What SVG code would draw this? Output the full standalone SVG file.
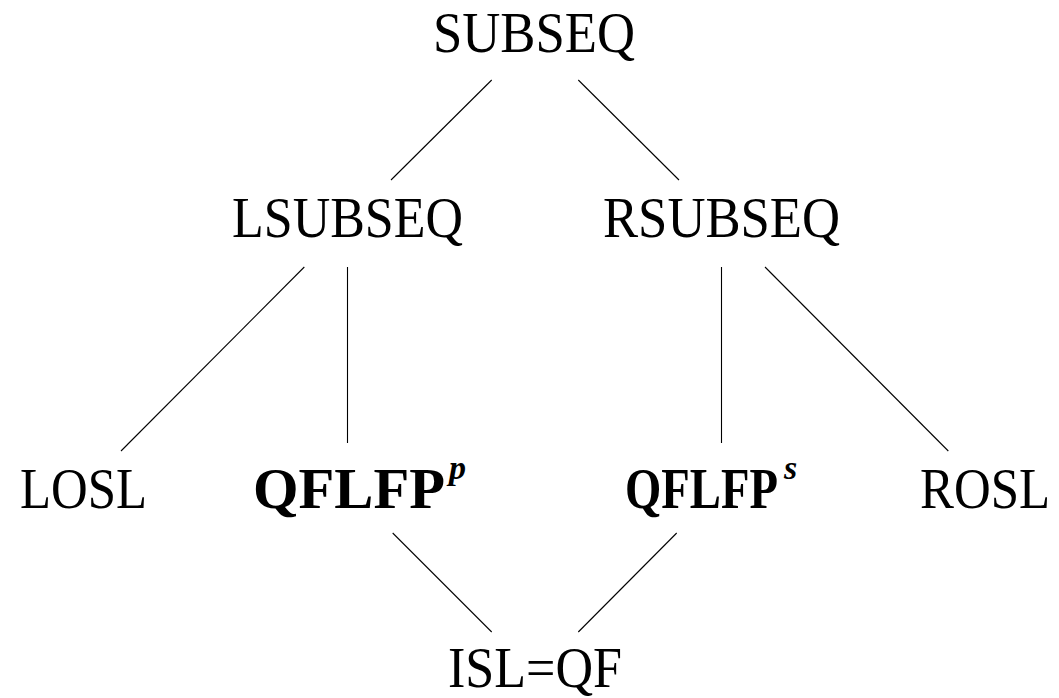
<svg xmlns="http://www.w3.org/2000/svg" width="1059" height="698" viewBox="0 0 1059 698">
<style>
.t{font-family:"Liberation Serif","DejaVu Serif",serif;font-size:58px;fill:#000}
.b{font-weight:bold}
.sup{font-family:"Liberation Serif","DejaVu Serif",serif;font-size:34px;font-weight:bold;font-style:italic;fill:#000}
.e{stroke:#000;stroke-width:1.1;fill:none}
</style>
<rect width="1059" height="698" fill="#fff"/>
<g id="connectors">
<line class="e" x1="491.7" y1="80" x2="391" y2="180"/>
<line class="e" x1="578.3" y1="80" x2="679" y2="180"/>
<line class="e" x1="304.3" y1="267" x2="121" y2="451"/>
<line class="e" x1="347.5" y1="267" x2="347.5" y2="443"/>
<line class="e" x1="721.5" y1="267" x2="721.5" y2="443"/>
<line class="e" x1="765" y1="267" x2="948.3" y2="451"/>
<line class="e" x1="392.7" y1="533" x2="491.7" y2="632"/>
<line class="e" x1="676.7" y1="533" x2="578.3" y2="632"/>
</g>
<g id="SUBSEQ"><text class="t" x="433" y="52" textLength="202" lengthAdjust="spacingAndGlyphs">SUBSEQ</text></g>
<g id="LSUBSEQ"><text class="t" x="232" y="237" textLength="231" lengthAdjust="spacingAndGlyphs">LSUBSEQ</text></g>
<g id="RSUBSEQ"><text class="t" x="603" y="237" textLength="237" lengthAdjust="spacingAndGlyphs">RSUBSEQ</text></g>
<g id="LOSL"><text class="t" x="20" y="508" textLength="127" lengthAdjust="spacingAndGlyphs">LOSL</text></g>
<g id="QFLFPp"><text class="t b" x="253" y="508" textLength="192" lengthAdjust="spacingAndGlyphs">QFLFP</text><text class="sup" x="449" y="479">p</text></g>
<g id="QFLFPs"><text class="t b" x="625" y="508" textLength="153" lengthAdjust="spacingAndGlyphs">QFLFP</text><text class="sup" x="784" y="479">s</text></g>
<g id="ROSL"><text class="t" x="920" y="508" textLength="130" lengthAdjust="spacingAndGlyphs">ROSL</text></g>
<g id="ISLQF"><text class="t" x="448" y="687" textLength="174" lengthAdjust="spacingAndGlyphs">ISL=QF</text></g>
</svg>
